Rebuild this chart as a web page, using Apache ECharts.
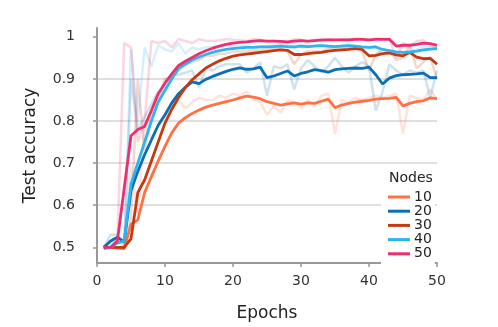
<!DOCTYPE html>
<html>
<head>
<meta charset="utf-8">
<script src="https://cdn.jsdelivr.net/npm/echarts@6/dist/echarts.min.js"></script>
<style>
  html, body { margin: 0; padding: 0; background: #fff; }
  #chart { width: 498px; height: 327px; }
</style>
</head>
<body>
<div id="chart"></div>
<script>
// epochs on the x axis
const epochs = [1, 2, 3, 4, 5, 6, 7, 8, 9, 10, 11, 12, 13, 14, 15, 16, 17, 18, 19, 20,
  21, 22, 23, 24, 25, 26, 27, 28, 29, 30, 31, 32, 33, 34, 35, 36, 37, 38, 39, 40,
  41, 42, 43, 44, 45, 46, 47, 48, 49, 50]

const nodeNames = ['10', '20', '30', '40', '50']
const yTicks = [0.5, 0.6, 0.7, 0.8, 0.9, 1]
const xTicks = [0, 10, 20, 30, 40, 50]

// smoothed curves (solid)
const acc10 = [0.500, 0.500, 0.498, 0.497, 0.555, 0.565, 0.630, 0.668, 0.705, 0.740, 0.772, 0.795, 0.808, 0.818, 0.826, 0.833, 0.838, 0.842, 0.846, 0.850,
  0.855, 0.859, 0.857, 0.853, 0.846, 0.842, 0.838, 0.841, 0.843, 0.840, 0.843, 0.842, 0.847, 0.852, 0.832, 0.838, 0.842, 0.845, 0.847, 0.849,
  0.852, 0.853, 0.854, 0.856, 0.836, 0.842, 0.846, 0.848, 0.855, 0.853]
const acc20 = [0.500, 0.515, 0.524, 0.513, 0.635, 0.680, 0.720, 0.755, 0.790, 0.815, 0.843, 0.865, 0.880, 0.893, 0.889, 0.899, 0.906, 0.912, 0.918, 0.923,
  0.926, 0.923, 0.924, 0.928, 0.903, 0.907, 0.913, 0.919, 0.907, 0.913, 0.917, 0.922, 0.920, 0.916, 0.922, 0.924, 0.925, 0.926, 0.925, 0.928,
  0.910, 0.888, 0.902, 0.908, 0.910, 0.911, 0.912, 0.914, 0.903, 0.903]
const acc30 = [0.500, 0.500, 0.500, 0.500, 0.520, 0.630, 0.660, 0.705, 0.750, 0.795, 0.828, 0.856, 0.880, 0.898, 0.912, 0.926, 0.935, 0.943, 0.949, 0.954,
  0.957, 0.959, 0.961, 0.963, 0.965, 0.967, 0.969, 0.968, 0.958, 0.958, 0.960, 0.962, 0.963, 0.966, 0.968, 0.969, 0.970, 0.972, 0.970, 0.955,
  0.956, 0.960, 0.962, 0.957, 0.955, 0.963, 0.952, 0.948, 0.949, 0.935]
const acc40 = [0.497, 0.500, 0.510, 0.515, 0.650, 0.700, 0.750, 0.800, 0.845, 0.873, 0.900, 0.925, 0.935, 0.945, 0.952, 0.958, 0.963, 0.967, 0.970, 0.972,
  0.974, 0.975, 0.975, 0.976, 0.976, 0.977, 0.978, 0.977, 0.976, 0.978, 0.977, 0.978, 0.979, 0.978, 0.977, 0.978, 0.979, 0.978, 0.976, 0.975,
  0.976, 0.970, 0.967, 0.964, 0.963, 0.964, 0.966, 0.969, 0.971, 0.972]
const acc50 = [0.500, 0.500, 0.515, 0.640, 0.765, 0.780, 0.787, 0.825, 0.865, 0.890, 0.912, 0.932, 0.942, 0.951, 0.960, 0.967, 0.973, 0.978, 0.982, 0.985,
  0.987, 0.988, 0.990, 0.991, 0.990, 0.990, 0.989, 0.988, 0.990, 0.991, 0.990, 0.991, 0.992, 0.993, 0.993, 0.993, 0.993, 0.994, 0.994, 0.993,
  0.994, 0.994, 0.994, 0.978, 0.980, 0.980, 0.982, 0.985, 0.984, 0.980]

// raw curves (faded)
const raw10 = [0.500, 0.500, 0.497, 0.497, 0.690, 0.580, 0.790, 0.760, 0.790, 0.810, 0.830, 0.850, 0.830, 0.845, 0.855, 0.850, 0.850, 0.860, 0.855, 0.865,
  0.860, 0.870, 0.850, 0.845, 0.815, 0.835, 0.820, 0.850, 0.845, 0.830, 0.850, 0.835, 0.860, 0.865, 0.770, 0.850, 0.845, 0.855, 0.850, 0.855,
  0.860, 0.855, 0.860, 0.865, 0.770, 0.860, 0.855, 0.850, 0.875, 0.850]
const raw20 = [0.500, 0.530, 0.530, 0.500, 0.900, 0.780, 0.810, 0.840, 0.870, 0.870, 0.910, 0.910, 0.915, 0.920, 0.880, 0.925, 0.920, 0.930, 0.935, 0.935,
  0.935, 0.915, 0.925, 0.940, 0.860, 0.930, 0.925, 0.935, 0.875, 0.925, 0.945, 0.930, 0.915, 0.930, 0.950, 0.930, 0.915, 0.930, 0.940, 0.930,
  0.825, 0.870, 0.935, 0.920, 0.910, 0.920, 0.915, 0.920, 0.855, 0.920]
const raw30 = [0.500, 0.500, 0.500, 0.500, 0.570, 0.900, 0.730, 0.810, 0.855, 0.900, 0.905, 0.920, 0.935, 0.940, 0.945, 0.955, 0.955, 0.960, 0.960, 0.965,
  0.965, 0.965, 0.968, 0.968, 0.970, 0.972, 0.973, 0.965, 0.935, 0.958, 0.965, 0.966, 0.965, 0.973, 0.973, 0.972, 0.973, 0.977, 0.965, 0.920,
  0.958, 0.970, 0.967, 0.945, 0.950, 0.980, 0.925, 0.940, 0.952, 0.900]
const raw40 = [0.497, 0.510, 0.520, 0.510, 0.970, 0.800, 0.975, 0.930, 0.980, 0.970, 0.965, 0.985, 0.960, 0.975, 0.970, 0.975, 0.975, 0.978, 0.978, 0.977,
  0.978, 0.978, 0.975, 0.978, 0.977, 0.980, 0.980, 0.975, 0.973, 0.982, 0.975, 0.980, 0.982, 0.976, 0.975, 0.980, 0.982, 0.976, 0.972, 0.973,
  0.978, 0.955, 0.960, 0.958, 0.962, 0.966, 0.970, 0.976, 0.975, 0.975]
const raw50 = [0.500, 0.500, 0.520, 0.985, 0.975, 0.750, 0.800, 0.990, 0.985, 0.990, 0.975, 0.995, 0.990, 0.985, 0.995, 0.990, 0.990, 0.992, 0.995, 0.993,
  0.992, 0.990, 0.995, 0.993, 0.988, 0.990, 0.985, 0.985, 0.995, 0.993, 0.988, 0.993, 0.995, 0.995, 0.993, 0.995, 0.994, 0.996, 0.995, 0.991,
  0.996, 0.995, 0.996, 0.950, 0.985, 0.975, 0.990, 0.992, 0.980, 0.975]

const colors = ['#ff7043', '#0a6fb5', '#c4390f', '#2db5f0', '#ec2f6e']
const smooth = [acc10, acc20, acc30, acc40, acc50]
const raw = [raw10, raw20, raw30, raw40, raw50]

const font = 'DejaVu Sans'
const chart = echarts.init(document.getElementById('chart'))

const pairs = arr => epochs.map((e, i) => [e, arr[i]])

const series = []
raw.forEach((arr, i) => {
  series.push({
    name: nodeNames[i] + ' raw',
    type: 'line',
    data: pairs(arr),
    showSymbol: false,
    symbol: 'none',
    z: 1,
    lineStyle: { color: colors[i], width: 2.5, opacity: 0.2 },
    itemStyle: { color: colors[i] }
  })
})
smooth.forEach((arr, i) => {
  series.push({
    name: nodeNames[i],
    type: 'line',
    data: pairs(arr),
    showSymbol: false,
    symbol: 'none',
    z: 2,
    lineStyle: { color: colors[i], width: 2.8 },
    itemStyle: { color: colors[i] }
  })
})

const option = {
  animation: false,
  grid: { left: 97, right: 61, top: 28, bottom: 58 },
  xAxis: {
    type: 'value',
    min: 0,
    max: 50,
    interval: 10,
    name: 'Epochs',
    nameLocation: 'middle',
    nameGap: 42,
    nameTextStyle: { fontFamily: font, fontSize: 17, color: '#222' },
    axisLine: { lineStyle: { color: '#999', width: 2 } },
    axisTick: { show: true, length: 4, lineStyle: { color: '#999', width: 1.5 }, customValues: xTicks },
    axisLabel: { fontFamily: font, fontSize: 14, color: '#333', margin: 11, customValues: xTicks },
    splitLine: { show: false }
  },
  yAxis: {
    type: 'value',
    min: 0.4628,
    max: 1.021,
    name: 'Test accuracy',
    nameLocation: 'middle',
    nameGap: 58,
    nameTextStyle: { fontFamily: font, fontSize: 17, color: '#222' },
    axisLine: { show: true, lineStyle: { color: '#999', width: 2 } },
    axisTick: { show: true, length: 4, lineStyle: { color: '#999', width: 1.5 }, customValues: yTicks },
    axisLabel: { fontFamily: font, fontSize: 14, color: '#333', margin: 22, customValues: yTicks },
    splitLine: { show: true, showMinLine: false, showMaxLine: false, lineStyle: { color: '#d4d4d4', width: 1.5 } }
  },
  legend: {
    data: nodeNames,
    orient: 'vertical',
    left: 381,
    top: 171,
    padding: [19, 3, 4, 7],
    backgroundColor: '#fff',
    icon: 'rect',
    itemWidth: 22,
    itemHeight: 3,
    itemGap: 0.2,
    textStyle: { fontFamily: font, fontSize: 14, color: '#222', lineHeight: 14, padding: [0, 0, 0, -1] }
  },
  graphic: [
    {
      type: 'text',
      left: 389,
      top: 171,
      z: 100,
      style: { text: 'Nodes', fontFamily: font, fontSize: 14, fill: '#222' }
    }
  ],
  series: series
}

chart.setOption(option)
</script>
</body>
</html>
